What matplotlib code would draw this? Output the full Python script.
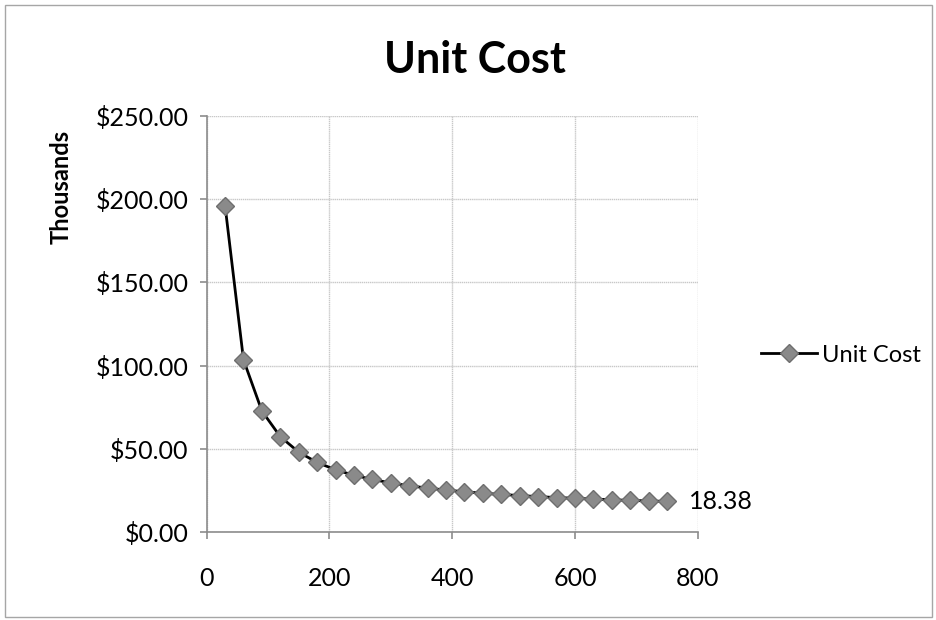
import matplotlib
matplotlib.use("Agg")
import matplotlib.pyplot as plt
from matplotlib.patches import Rectangle
from matplotlib.ticker import FuncFormatter

# units produced vs unit cost (thousands of $)
units = [30, 60, 90, 120, 150, 180, 210, 240, 270, 300, 330, 360, 390,
         420, 450, 480, 510, 540, 570, 600, 630, 660, 690, 720, 750]
unit_cost = [196.0, 103.5, 72.7, 57.3, 48.0, 41.8, 37.4, 34.1, 31.6, 29.5,
             27.8, 26.4, 25.2, 24.2, 23.3, 22.6, 21.9, 21.3, 20.7, 20.3,
             19.8, 19.4, 19.0, 18.7, 18.38]
last_label = "18.38"

x_ticks = [0, 200, 400, 600, 800]
y_ticks = [0, 50, 100, 150, 200, 250]

plt.rcParams["font.family"] = ["Lato", "DejaVu Sans"]

fig = plt.figure(figsize=(9.36, 6.2), dpi=100)
ax = fig.add_axes([0.2208, 0.1419, 0.5246, 0.6710])

# outer chart frame
fig.patches.append(Rectangle((0.005, 0.005), 0.991, 0.987, transform=fig.transFigure,
                             fill=False, edgecolor="#a6a6a6", linewidth=1.0))

ax.plot(units, unit_cost, color="black", linewidth=2.0, marker="D",
        markersize=9, markerfacecolor="#8a8a8a", markeredgecolor="#6e6e6e",
        markeredgewidth=1.0, label="Unit Cost", zorder=3)

ax.annotate(last_label, (units[-1], unit_cost[-1]), xytext=(16, 0),
            textcoords="offset points", va="center", ha="left", fontsize=18)

ax.set_xlim(0, 800)
ax.set_ylim(0, 250)
ax.set_xticks(x_ticks)
ax.set_yticks(y_ticks)
ax.yaxis.set_major_formatter(FuncFormatter(lambda v, p: f"${v:,.2f}"))

ax.grid(True, color="#c8c8c8", linewidth=1.0, linestyle=(0, (1, 0.5)))
ax.set_axisbelow(True)
for side in ["top", "right"]:
    ax.spines[side].set_visible(False)
for side in ["left", "bottom"]:
    ax.spines[side].set_color("#8c8c8c")
    ax.spines[side].set_linewidth(1.2)
ax.tick_params(axis="both", colors="#8c8c8c", length=5, width=1.2,
               labelcolor="black", labelsize=18, pad=8)
ax.tick_params(axis="x", pad=20)

fig.text(0.507, 0.903, "Unit Cost", fontsize=31, fontweight="bold",
         ha="center", va="center")
ax.set_ylabel("Thousands", fontsize=17, fontweight="bold")
ax.yaxis.set_label_coords(-0.272, 0.83)

ax.legend(loc="center left", bbox_to_anchor=(1.128, 0.425), frameon=False,
          fontsize=17, handlelength=2.4, handletextpad=0.2, borderaxespad=0,
          borderpad=0)

fig.savefig("out.png", dpi=100)
